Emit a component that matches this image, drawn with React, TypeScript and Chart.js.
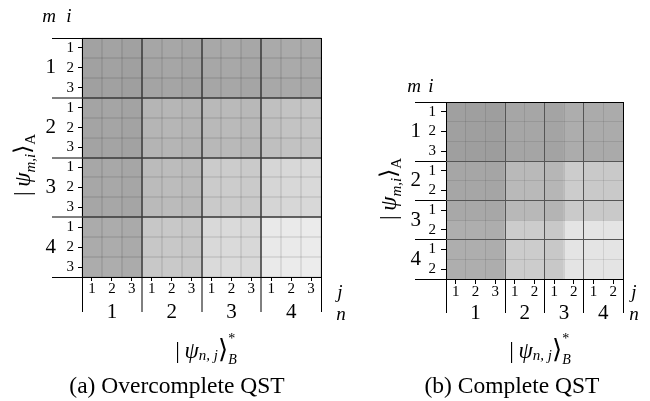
import React, { useEffect, useRef } from 'react';
import { Chart, registerables } from 'chart.js';

Chart.register(...registerables);

const SERIF = '"Liberation Serif", "Times New Roman", "DejaVu Serif", serif';

// ---------- (a) Overcomplete QST : 4 groups x 3 states ----------
const A_ROW_LABELS = ['1', '2', '3', '1', '2', '3', '1', '2', '3', '1', '2', '3'];
const A_ROW_GROUP_LABELS = ['1', '2', '3', '4'];
const A_ROW_GROUPS = [0, 3, 6, 9, 12];
const A_COL_LABELS = ['1', '2', '3', '1', '2', '3', '1', '2', '3', '1', '2', '3'];
const A_COL_GROUP_LABELS = ['1', '2', '3', '4'];
const A_COL_GROUPS = [0, 3, 6, 9, 12];
// grey level (0-255) of every cell, rows m1i1 ... m4i3, columns n1j1 ... n4j3
const A_ROW_1 = [162, 163, 161, 166, 167, 165, 168, 169, 167, 170, 171, 170];
const A_ROW_2 = [161, 162, 160, 165, 166, 164, 167, 168, 166, 169, 170, 169];
const A_ROW_3 = [160, 161, 159, 164, 165, 163, 166, 167, 165, 168, 169, 168];
const A_ROW_4 = [164, 165, 163, 181, 182, 180, 185, 186, 184, 192, 195, 196];
const A_ROW_5 = [164, 165, 163, 181, 182, 180, 185, 186, 184, 192, 195, 196];
const A_ROW_6 = [163, 164, 162, 180, 181, 179, 184, 185, 183, 191, 194, 195];
const A_ROW_7 = [167, 168, 166, 187, 188, 186, 203, 204, 202, 214, 216, 217];
const A_ROW_8 = [167, 168, 166, 187, 188, 186, 203, 204, 202, 214, 216, 217];
const A_ROW_9 = [166, 167, 165, 186, 187, 185, 202, 203, 201, 213, 215, 216];
const A_ROW_10 = [171, 172, 170, 199, 200, 198, 217, 218, 216, 233, 234, 235];
const A_ROW_11 = [171, 172, 170, 199, 200, 198, 217, 218, 216, 233, 234, 235];
const A_ROW_12 = [172, 173, 171, 200, 201, 199, 218, 219, 217, 234, 235, 236];
const A_VALUES = [A_ROW_1, A_ROW_2, A_ROW_3, A_ROW_4, A_ROW_5, A_ROW_6, A_ROW_7, A_ROW_8, A_ROW_9, A_ROW_10, A_ROW_11, A_ROW_12];

// ---------- (b) Complete QST : groups of 3,2,2,2 ----------
const B_ROW_LABELS = ['1', '2', '3', '1', '2', '1', '2', '1', '2'];
const B_ROW_GROUP_LABELS = ['1', '2', '3', '4'];
const B_ROW_GROUPS = [0, 3, 5, 7, 9];
const B_COL_LABELS = ['1', '2', '3', '1', '2', '1', '2', '1', '2'];
const B_COL_GROUP_LABELS = ['1', '2', '3', '4'];
const B_COL_GROUPS = [0, 3, 5, 7, 9];
const B_ROW_1 = [160, 159, 158, 166, 166, 164, 173, 171, 171];
const B_ROW_2 = [160, 159, 158, 166, 166, 164, 173, 171, 171];
const B_ROW_3 = [159, 158, 157, 165, 165, 163, 172, 170, 170];
const B_ROW_4 = [166, 166, 165, 185, 185, 182, 204, 201, 201];
const B_ROW_5 = [166, 166, 165, 185, 185, 182, 204, 201, 201];
const B_ROW_6 = [168, 168, 167, 184, 184, 180, 202, 201, 201];
const B_ROW_7 = [174, 174, 173, 204, 204, 200, 228, 228, 228];
const B_ROW_8 = [174, 174, 173, 204, 204, 200, 228, 228, 228];
const B_ROW_9 = [174, 174, 173, 204, 204, 200, 228, 228, 228];
const B_VALUES = [B_ROW_1, B_ROW_2, B_ROW_3, B_ROW_4, B_ROW_5, B_ROW_6, B_ROW_7, B_ROW_8, B_ROW_9];

type Cfg = {
  values: number[][];
  rowLabels: string[];
  rowGroupLabels: string[];
  rowGroups: number[];
  colLabels: string[];
  colGroupLabels: string[];
  colGroups: number[];
  padding: { left: number; right: number; top: number; bottom: number };
  groupLabelW: number;
  labelW: number;
  labelH: number;
  groupLabelH: number;
  tickLen: number;
  yLabelPad: number;
  xLabelPad: number;
  groupTickX: number;
  groupTickY: number;
  innerColor: string;
  innerWidth: number;
  cellColor: string;
  cellWidth: number;
  smallFont: number;
  bigFont: number;
};

const A_CFG: Cfg = {
  values: A_VALUES,
  rowLabels: A_ROW_LABELS,
  rowGroupLabels: A_ROW_GROUP_LABELS,
  rowGroups: A_ROW_GROUPS,
  colLabels: A_COL_LABELS,
  colGroupLabels: A_COL_GROUP_LABELS,
  colGroups: A_COL_GROUPS,
  padding: { left: 36, right: 329, top: 38, bottom: 79 },
  groupLabelW: 20,
  labelW: 26,
  labelH: 25,
  groupLabelH: 20,
  tickLen: 4,
  yLabelPad: 4,
  xLabelPad: 1,
  groupTickX: 35,
  groupTickY: 30,
  innerColor: 'rgba(60,60,60,0.75)',
  innerWidth: 2,
  cellColor: 'rgba(0,0,0,0.08)',
  cellWidth: 2,
  smallFont: 15,
  bigFont: 21,
};

const B_CFG: Cfg = {
  values: B_VALUES,
  rowLabels: B_ROW_LABELS,
  rowGroupLabels: B_ROW_GROUP_LABELS,
  rowGroups: B_ROW_GROUPS,
  colLabels: B_COL_LABELS,
  colGroupLabels: B_COL_GROUP_LABELS,
  colGroups: B_COL_GROUPS,
  padding: { left: 401, right: 27, top: 102, bottom: 78 },
  groupLabelW: 20,
  labelW: 25,
  labelH: 24,
  groupLabelH: 20,
  tickLen: 5,
  yLabelPad: 5,
  xLabelPad: 1,
  groupTickX: 34,
  groupTickY: 31,
  innerColor: '#555',
  innerWidth: 1,
  cellColor: 'rgba(0,0,0,0.09)',
  cellWidth: 1,
  smallFont: 15,
  bigFont: 21,
};

function buildChart(canvas: HTMLCanvasElement, cfg: Cfg) {
  const rows = cfg.values.length;
  const cols = cfg.colLabels.length;
  const gray = (v: number) => `rgb(${v},${v},${v})`;
  const centers = (g: number[]) => g.slice(0, -1).map((v, i) => (v + g[i + 1]) / 2);
  const range = (n: number) => Array.from({ length: n + 1 }, (_, i) => i);
  const fix = (size: number) => (s: any) => {
    if (s.isHorizontal()) s.height = size;
    else s.width = size;
  };
  const setTicks = (vals: number[]) => (s: any) => {
    s.ticks = vals.map((v) => ({ value: v }));
  };
  const noGrid = { display: false, drawTicks: false, tickLength: 0, offset: false };
  const noBorder = { display: false };
  const small = { family: SERIF, size: cfg.smallFont, lineHeight: 1 };
  const big = { family: SERIF, size: cfg.bigFont, lineHeight: 1 };
  const groupGrid = (tickLength: number, last: number) => ({
    display: true,
    offset: false,
    drawOnChartArea: true,
    drawTicks: true,
    tickLength,
    color: (ctx: any) => (ctx.index === 0 || ctx.index === last ? '#000' : cfg.innerColor),
    lineWidth: (ctx: any) => (ctx.index === 0 || ctx.index === last ? 1 : cfg.innerWidth),
    tickColor: '#000',
    tickWidth: 1,
    z: 2,
  });
  const cellGrid = {
    display: true,
    offset: false,
    drawOnChartArea: true,
    drawTicks: false,
    tickLength: 0,
    color: cfg.cellColor,
    lineWidth: cfg.cellWidth,
    z: 1,
  };

  const datasets = cfg.values.map((row, r) => ({
    label: 'row ' + (r + 1),
    data: row.map(() => 1),
    backgroundColor: row.map(gray),
    borderWidth: 0,
    barPercentage: 1,
    categoryPercentage: 1,
    stack: 'm',
  }));

  const helperX = (extra: any) => ({
    type: 'linear',
    position: 'bottom',
    min: 0,
    max: cols,
    offset: false,
    border: noBorder,
    ...extra,
  });
  const helperY = (extra: any) => ({
    type: 'linear',
    position: 'left',
    reverse: true,
    min: 0,
    max: rows,
    offset: false,
    border: noBorder,
    ...extra,
  });

  return new Chart(canvas, {
    type: 'bar',
    data: { labels: cfg.colLabels, datasets },
    options: {
      animation: false,
      responsive: false,
      events: [],
      layout: { padding: cfg.padding },
      plugins: { legend: { display: false }, tooltip: { enabled: false }, title: { display: false } },
      scales: {
        x: {
          type: 'category',
          position: 'bottom',
          stacked: true,
          offset: true,
          weight: 1,
          afterFit: fix(cfg.labelH),
          grid: {
            display: true,
            offset: false,
            drawOnChartArea: false,
            drawTicks: true,
            tickLength: cfg.tickLen,
            color: '#000',
            tickColor: '#000',
            lineWidth: 1,
          },
          border: noBorder,
          ticks: { autoSkip: false, maxRotation: 0, minRotation: 0, padding: cfg.xLabelPad, color: '#000', font: small },
        },
        xn: helperX({
          weight: 2,
          afterFit: fix(cfg.groupLabelH),
          afterBuildTicks: setTicks(centers(cfg.colGroups)),
          grid: noGrid,
          ticks: {
            autoSkip: false,
            maxRotation: 0,
            padding: 0,
            color: '#000',
            font: big,
            callback: (_v: any, i: number) => cfg.colGroupLabels[i],
          },
        }),
        xg: helperX({
          weight: 0,
          afterFit: fix(0),
          afterBuildTicks: setTicks(cfg.colGroups),
          grid: groupGrid(cfg.groupTickX, cfg.colGroups.length - 1),
          ticks: { display: false },
        }),
        xc: helperX({
          weight: 0,
          afterFit: fix(0),
          afterBuildTicks: setTicks(range(cols)),
          grid: cellGrid,
          ticks: { display: false },
        }),
        y: {
          type: 'linear',
          position: 'left',
          stacked: true,
          reverse: true,
          min: 0,
          max: rows,
          weight: 1,
          afterFit: fix(cfg.labelW),
          afterBuildTicks: setTicks(range(rows - 1).map((v) => v + 0.5)),
          grid: {
            display: true,
            offset: false,
            drawOnChartArea: false,
            drawTicks: true,
            tickLength: cfg.tickLen,
            color: '#000',
            tickColor: '#000',
            lineWidth: 1,
          },
          border: noBorder,
          ticks: {
            autoSkip: false,
            padding: cfg.yLabelPad,
            color: '#000',
            font: small,
            callback: (_v: any, i: number) => cfg.rowLabels[i],
          },
        },
        ym: helperY({
          weight: 2,
          afterFit: fix(cfg.groupLabelW),
          afterBuildTicks: setTicks(centers(cfg.rowGroups)),
          grid: noGrid,
          ticks: {
            autoSkip: false,
            padding: 0,
            color: '#000',
            font: big,
            callback: (_v: any, i: number) => cfg.rowGroupLabels[i],
          },
        }),
        yg: helperY({
          weight: 0,
          afterFit: fix(0),
          afterBuildTicks: setTicks(cfg.rowGroups),
          grid: groupGrid(cfg.groupTickY, cfg.rowGroups.length - 1),
          ticks: { display: false },
        }),
        yc: helperY({
          weight: 0,
          afterFit: fix(0),
          afterBuildTicks: setTicks(range(rows)),
          grid: cellGrid,
          ticks: { display: false },
        }),
      },
    } as any,
  });
}

const abs = (x: number, y: number, extra: React.CSSProperties = {}): React.CSSProperties => ({
  position: 'absolute',
  left: x,
  top: y,
  transform: 'translate(-50%, -50%)',
  whiteSpace: 'nowrap',
  lineHeight: 1,
  fontFamily: SERIF,
  color: '#000',
  ...extra,
});

function KetA({ x, y, sub }: { x: number; y: number; sub: string }) {
  return (
    <div style={abs(x, y, { transform: 'translate(-50%, -50%) rotate(-90deg)', fontSize: 23 })}>
      <span>|&thinsp;</span>
      <i>ψ</i>
      <span style={{ fontSize: 15, fontStyle: 'italic', position: 'relative', top: 5 }}>{sub}</span>
      <span>⟩</span>
      <span style={{ fontSize: 15, position: 'relative', top: 5 }}>A</span>
    </div>
  );
}

function BraB({ x, y }: { x: number; y: number }) {
  return (
    <div style={abs(x, y, { fontSize: 23, display: 'flex', alignItems: 'center' })}>
      <span>|&thinsp;</span>
      <i>ψ</i>
      <span style={{ fontSize: 15, fontStyle: 'italic', position: 'relative', top: 5 }}>n, j</span>
      <span style={{ fontSize: 26 }}>⟩</span>
      <span style={{ display: 'inline-flex', flexDirection: 'column', fontSize: 14, lineHeight: 1 }}>
        <span style={{ position: 'relative', top: -4 }}>*</span>
        <i style={{ position: 'relative', top: 3 }}>B</i>
      </span>
    </div>
  );
}

export default function App() {
  const refA = useRef<HTMLCanvasElement>(null);
  const refB = useRef<HTMLCanvasElement>(null);

  useEffect(() => {
    const a = buildChart(refA.current!, A_CFG);
    const b = buildChart(refB.current!, B_CFG);
    return () => {
      a.destroy();
      b.destroy();
    };
  }, []);

  const it = { fontStyle: 'italic', fontSize: 19 } as React.CSSProperties;

  return (
    <div style={{ position: 'fixed', left: 0, top: 0, width: 650, height: 401, background: '#fff', overflow: 'hidden' }}>
      <canvas ref={refA} width={650} height={401} style={{ position: 'absolute', left: 0, top: 0 }} />
      <canvas ref={refB} width={650} height={401} style={{ position: 'absolute', left: 0, top: 0 }} />

      {/* (a) */}
      <div style={abs(49, 15, it)}>m</div>
      <div style={abs(69, 15, it)}>i</div>
      <div style={abs(340, 291, it)}>j</div>
      <div style={abs(341, 313, it)}>n</div>
      <KetA x={22} y={165} sub="m,i" />
      <BraB x={206} y={350} />
      <div style={abs(177, 386, { fontSize: 23.5 })}>(a) Overcomplete QST</div>

      {/* (b) */}
      <div style={abs(414, 85, it)}>m</div>
      <div style={abs(431, 85, it)}>i</div>
      <div style={abs(634, 291, it)}>j</div>
      <div style={abs(634, 313, it)}>n</div>
      <KetA x={388} y={189} sub="m,i" />
      <BraB x={540} y={350} />
      <div style={abs(512, 386, { fontSize: 23.5 })}>(b) Complete QST</div>
    </div>
  );
}
